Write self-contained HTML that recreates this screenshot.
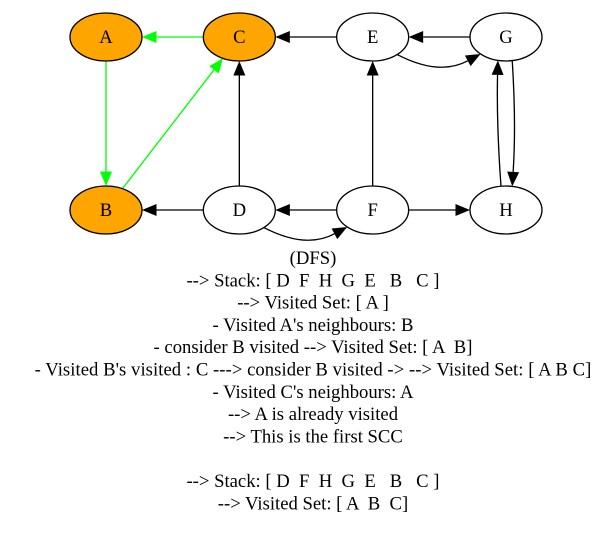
<!DOCTYPE html>
<html lang="en">
<head>
<meta charset="utf-8">
<title>SCC DFS graph</title>
<style>
html,body{margin:0;padding:0;background:#fff;}
svg{display:block;}
text{font-family:"Liberation Serif",serif;font-size:18.67px;fill:#000;white-space:pre;text-anchor:middle;}
</style>
</head>
<body>
<svg id="chart" xmlns="http://www.w3.org/2000/svg" width="612" height="548" viewBox="0 0 612 548" xml:space="preserve">
<g id="edges"></g>
<g id="nodes"></g>
<g id="caption"></g>
</svg>
<script>
var nodeNames = ["A","C","E","G","B","D","F","H"];
var nodeColumns = [0,1,2,3,0,1,2,3];
var nodeRows = [0,0,0,0,1,1,1,1];
var visitedNodes = ["A","B","C"];
var edgeSources = ["C","A","B","D","E","F","G","E","G","H","F","F","D","D"];
var edgeTargets = ["A","B","C","C","C","E","E","G","H","G","H","D","F","B"];
var sccEdges = ["C-A","A-B","B-C"];
var captionLines = [
  "(DFS)",
  "--> Stack: [ D  F  H  G  E   B   C ]",
  "--> Visited Set: [ A ]",
  "- Visited A's neighbours: B",
  "- consider B visited --> Visited Set: [ A  B]",
  "- Visited B's visited : C ---> consider B visited -> --> Visited Set: [ A B C]",
  "- Visited C's neighbours: A",
  "--> A is already visited",
  "--> This is the first SCC",
  "",
  "--> Stack: [ D  F  H  G  E   B   C ]",
  "--> Visited Set: [ A  B  C]"
];

var NS = "http://www.w3.org/2000/svg";
var RX = 36, RY = 24, ARROW_LEN = 14.5, ARROW_HALF = 6;
function xScale(col){ return 106 + col * 133.33; }
function yScale(row){ return 37 + row * 173; }
function lineY(i){ return 264 + i * 22.3; }
function center(name){
  var i = nodeNames.indexOf(name);
  return {x: xScale(nodeColumns[i]), y: yScale(nodeRows[i])};
}
function onEllipse(c, deg){
  var t = deg * Math.PI / 180;
  return {x: c.x + RX * Math.cos(t), y: c.y + RY * Math.sin(t)};
}
function borderToward(c, o){
  var dx = o.x - c.x, dy = o.y - c.y;
  var k = 1 / Math.sqrt(dx*dx/(RX*RX) + dy*dy/(RY*RY));
  return {x: c.x + dx*k, y: c.y + dy*k};
}
function route(key){
  if (key === "E-G" || key === "D-F") return {a: 47, b: 135, bend: 22};
  if (key === "G-H") return {a: 80, b: -80, bend: -4};
  if (key === "H-G") return {a: -98, b: 103, bend: -3};
  return null;
}

var edgeLayer = document.getElementById("edges");
edgeSources.forEach(function(src, i){
  var dst = edgeTargets[i];
  var key = src + "-" + dst;
  var c1 = center(src), c2 = center(dst);
  var r = route(key);
  var p1, tip, ctrl = null;
  if (r) {
    p1 = onEllipse(c1, r.a);
    tip = onEllipse(c2, r.b);
    var dx = tip.x - p1.x, dy = tip.y - p1.y, len = Math.hypot(dx, dy);
    ctrl = {
      x: (p1.x + tip.x) / 2 - dy / len * r.bend,
      y: (p1.y + tip.y) / 2 + dx / len * r.bend
    };
  } else {
    p1 = borderToward(c1, c2);
    tip = borderToward(c2, c1);
  }
  var from = ctrl || p1;
  var ux = tip.x - from.x, uy = tip.y - from.y, ul = Math.hypot(ux, uy);
  ux /= ul; uy /= ul;
  var base = {x: tip.x - ux * ARROW_LEN, y: tip.y - uy * ARROW_LEN};
  var color = sccEdges.indexOf(key) >= 0 ? "#00ff00" : "#000000";

  var g = document.createElementNS(NS, "g");
  
  

  var path = document.createElementNS(NS, "path");
  
  
  var d = "M" + p1.x + " " + p1.y;
  d += ctrl ? " Q" + ctrl.x + " " + ctrl.y + " " + base.x + " " + base.y
            : " L" + base.x + " " + base.y;
  path.setAttribute("d", d);
  path.setAttribute("fill", "none");
  path.setAttribute("stroke", color);
  path.setAttribute("stroke-width", "1.33");
  g.appendChild(path);

  var head = document.createElementNS(NS, "polygon");
  
  
  head.setAttribute("points",
    tip.x + "," + tip.y + " " +
    (base.x - uy * ARROW_HALF) + "," + (base.y + ux * ARROW_HALF) + " " +
    (base.x + uy * ARROW_HALF) + "," + (base.y - ux * ARROW_HALF));
  head.setAttribute("fill", color);
  g.appendChild(head);
  edgeLayer.appendChild(g);
});

var nodeLayer = document.getElementById("nodes");
nodeNames.forEach(function(name){
  var c = center(name);
  var g = document.createElementNS(NS, "g");
  
  

  var el = document.createElementNS(NS, "ellipse");
  
  
  el.setAttribute("cx", c.x);
  el.setAttribute("cy", c.y);
  el.setAttribute("rx", RX);
  el.setAttribute("ry", RY);
  el.setAttribute("fill", visitedNodes.indexOf(name) >= 0 ? "#ffa500" : "#ffffff");
  el.setAttribute("stroke", "#000");
  el.setAttribute("stroke-width", "1.33");
  g.appendChild(el);

  var t = document.createElementNS(NS, "text");
  
  
  t.setAttribute("x", c.x);
  t.setAttribute("y", c.y + 6);
  t.textContent = name;
  g.appendChild(t);
  nodeLayer.appendChild(g);
});

var captionLayer = document.getElementById("caption");
captionLines.forEach(function(line, i){
  if (!line) return;
  var t = document.createElementNS(NS, "text");
  
  
  t.setAttribute("x", 313);
  t.setAttribute("y", lineY(i));
  if (line.length > 70) t.setAttribute("letter-spacing", "0.05");
  t.textContent = line;
  captionLayer.appendChild(t);
});
</script>
</body>
</html>
